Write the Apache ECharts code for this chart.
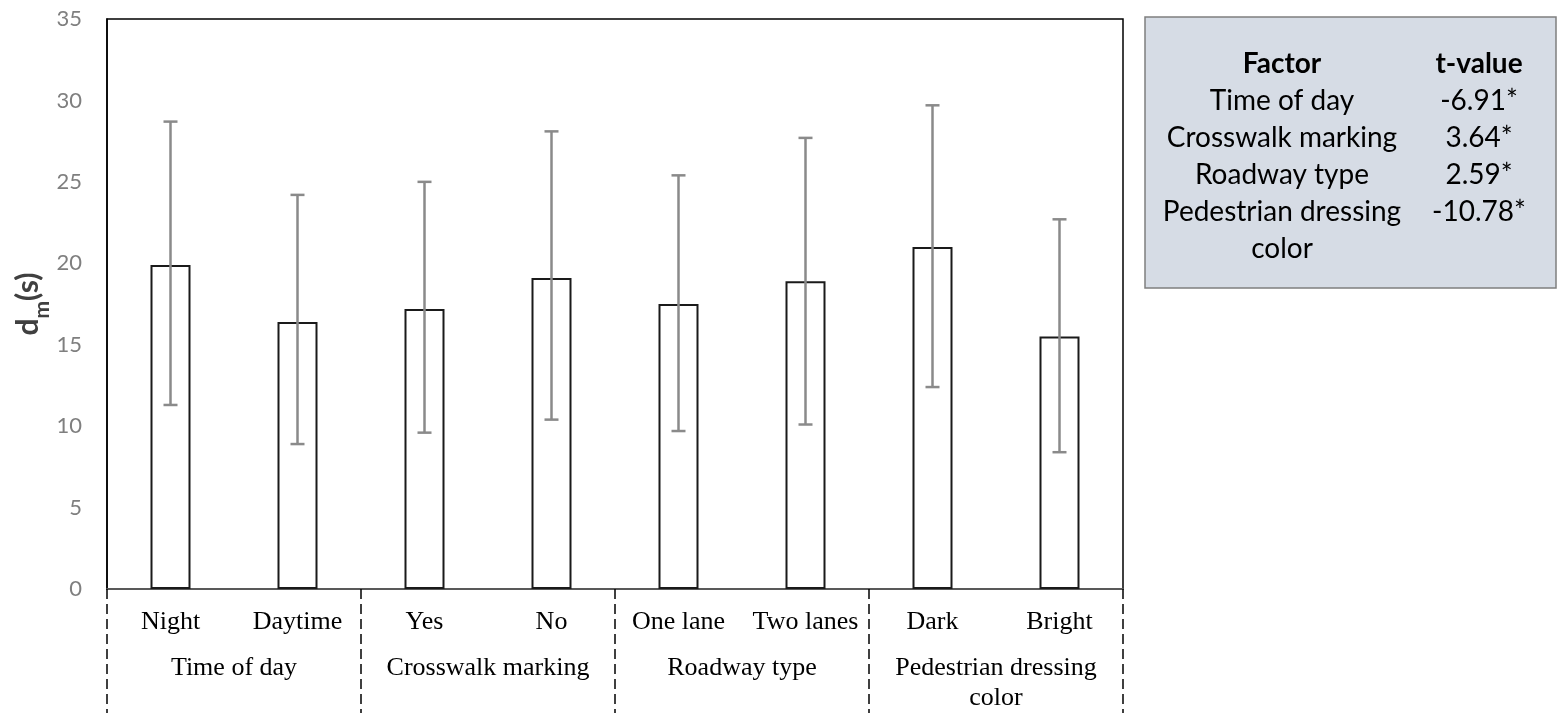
<!DOCTYPE html>
<html><head><meta charset="utf-8">
<script src="https://cdn.jsdelivr.net/npm/echarts@6/dist/echarts.min.js"></script>
<style>html,body{margin:0;padding:0;background:#fff}#c{width:1557px;height:713px}</style>
</head><body><div id="c"></div>
<script>
const categories = ['Night', 'Daytime', 'Yes', 'No', 'One lane', 'Two lanes', 'Dark', 'Bright'];
const groups = ['Time of day', 'Crosswalk marking', 'Roadway type', 'Pedestrian dressing\ncolor'];
const means = [19.9, 16.4, 17.2, 19.1, 17.5, 18.9, 21.0, 15.5];
const errLow = [11.3, 8.9, 9.6, 10.4, 9.7, 10.1, 12.4, 8.4];
const errHigh = [28.7, 24.2, 25.0, 28.1, 25.4, 27.7, 29.7, 22.7];
const yMin = 0, yMax = 35, yInterval = 5;
const tableHeader = ['Factor', 't-value'];
const tableFactors = ['Time of day', 'Crosswalk marking', 'Roadway type', 'Pedestrian dressing\ncolor'];
const tableValues = ['-6.91*', '3.64*', '2.59*', '-10.78*'];

const chart = echarts.init(document.getElementById('c'), null, {renderer: 'canvas'});

const tableFont = 'Lato';
const tableFontSize = 28;
const rowH = 37;
const firstRowY = 64;
const col1X = 1282, col2X = 1479;
const tableGraphics = [{
  type: 'rect', shape: {x: 1145, y: 17, width: 411, height: 271},
  style: {fill: '#D6DCE5', stroke: '#7f7f7f', lineWidth: 1.5}, z: 0
}];
tableHeader.forEach((h, i) => {
  tableGraphics.push({type: 'text', z: 1, style: {text: h, x: i === 0 ? col1X : col2X, y: firstRowY - rowH / 2,
    align: 'center', verticalAlign: 'top', fontFamily: tableFont, fontSize: tableFontSize, fontWeight: 'bold',
    lineHeight: rowH, fill: '#000'}});
});
tableFactors.forEach((f, i) => {
  const y = firstRowY + (i + 1) * rowH - rowH / 2;
  tableGraphics.push({type: 'text', z: 1, style: {text: f, x: col1X, y: y, align: 'center', verticalAlign: 'top',
    fontFamily: tableFont, fontSize: tableFontSize, lineHeight: rowH, fill: '#000'}});
  tableGraphics.push({type: 'text', z: 1, style: {text: tableValues[i], x: col2X, y: y, align: 'center', verticalAlign: 'top',
    fontFamily: tableFont, fontSize: tableFontSize, lineHeight: rowH, fill: '#000'}});
});

const option = {
  animation: false,
  backgroundColor: '#fff',
  grid: {left: 107, right: 434, top: 19, bottom: 124, show: true, borderColor: '#000', borderWidth: 1.5,
    backgroundColor: 'transparent', containLabel: false, outerBoundsMode: 'none'},
  xAxis: [{
    type: 'category', data: categories, position: 'bottom',
    axisLine: {show: true, lineStyle: {color: '#595959', width: 2}},
    axisTick: {show: false},
    axisLabel: {interval: 0, margin: 19, fontFamily: 'Liberation Serif', fontSize: 26, lineHeight: 28, color: '#000'},
    splitLine: {show: false}
  }, {
    type: 'category', data: groups, position: 'bottom', offset: 0,
    axisLine: {show: false},
    axisTick: {show: true, length: 124, lineStyle: {color: '#000', width: 1.5, type: [10, 5]}},
    axisLabel: {interval: 0, margin: 64, fontFamily: 'Liberation Serif', fontSize: 26, lineHeight: 30, color: '#000'},
    splitLine: {show: false}
  }],
  yAxis: {
    type: 'value', min: yMin, max: yMax, interval: yInterval,
    axisLine: {show: true, lineStyle: {color: '#000', width: 1.5}},
    axisTick: {show: false},
    splitLine: {show: false},
    axisLabel: {margin: 25, fontFamily: 'Lato', fontSize: 22, color: '#7f7f7f'},
    name: '{a|d}{sub|m}{a|(s)}', nameLocation: 'middle', nameRotate: 90, nameGap: 54, nameMoveOverlap: false,
    nameTextStyle: {rich: {
      a: {fontFamily: 'Lato', fontSize: 30, fontWeight: 'bold', color: '#404040', lineHeight: 30, verticalAlign: 'top'},
      sub: {fontFamily: 'Lato', fontSize: 21, fontWeight: 'bold', color: '#404040', lineHeight: 40, verticalAlign: 'bottom'}
    }}
  },
  series: [{
    type: 'bar', xAxisIndex: 0, data: means, barWidth: 40,
    itemStyle: {color: '#fff', borderColor: '#1a1a1a', borderWidth: 2},
    z: 2
  }, {
    type: 'custom', xAxisIndex: 0, z: 3,
    data: categories.map((c, i) => [i, errLow[i], errHigh[i]]),
    encode: {x: 0, y: [1, 2]},
    renderItem: function (params, api) {
      const x = api.value(0);
      const pLo = api.coord([x, api.value(1)]);
      const pHi = api.coord([x, api.value(2)]);
      const hw = 7;
      const st = {stroke: '#8a8a8a', lineWidth: 2.5, fill: null};
      return {type: 'group', children: [
        {type: 'line', shape: {x1: pHi[0], y1: pHi[1], x2: pLo[0], y2: pLo[1]}, style: st},
        {type: 'line', shape: {x1: pHi[0] - hw, y1: pHi[1], x2: pHi[0] + hw, y2: pHi[1]}, style: st},
        {type: 'line', shape: {x1: pLo[0] - hw, y1: pLo[1], x2: pLo[0] + hw, y2: pLo[1]}, style: st}
      ]};
    }
  }],
  graphic: tableGraphics
};
chart.setOption(option);
</script>
</body></html>
